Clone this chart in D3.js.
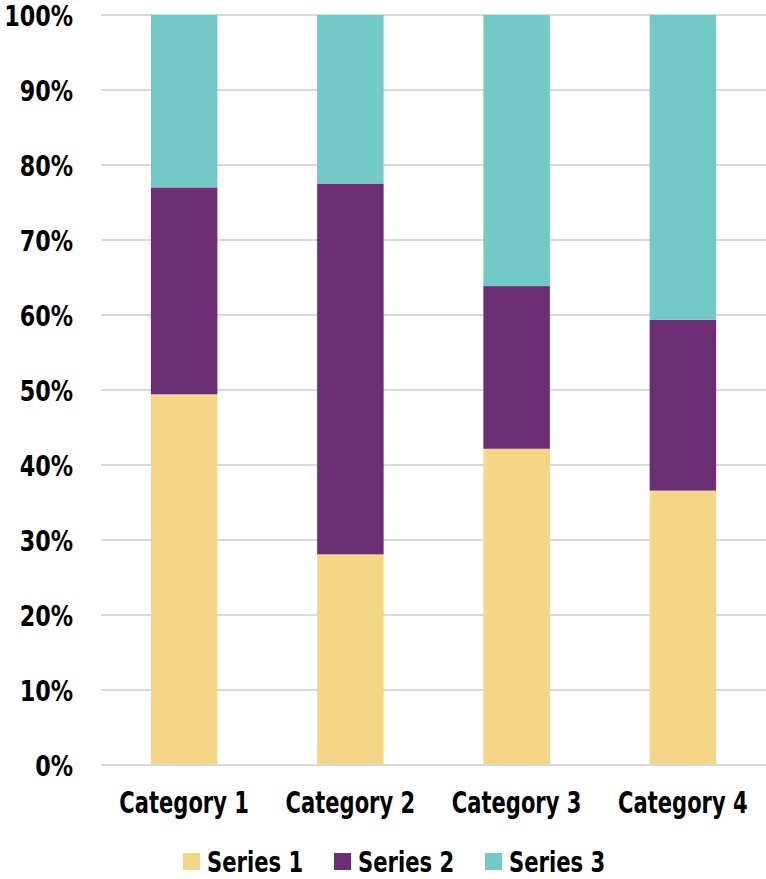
<!DOCTYPE html>
<html><head><meta charset="utf-8">
<script src="https://cdn.jsdelivr.net/npm/d3@7"></script>
<style>
body{margin:0;background:#fff;}
text{font-family:"DejaVu Sans Condensed","DejaVu Sans",sans-serif;font-weight:bold;fill:#000;}
</style></head>
<body><svg id="c" width="766" height="879"></svg>
<script>
const categories = ["Category 1","Category 2","Category 3","Category 4"];
const seriesNames = ["Series 1","Series 2","Series 3"];
const series1 = [4.3, 2.5, 3.5, 4.5];
const series2 = [2.4, 4.4, 1.8, 2.8];
const series3 = [2, 2, 3, 5];
const colors = ["#F5D687","#6B2D73","#72CAC6"];
const yTicks = [0,0.1,0.2,0.3,0.4,0.5,0.6,0.7,0.8,0.9,1];

const rows = categories.map((c,i)=>({cat:c,"Series 1":series1[i],"Series 2":series2[i],"Series 3":series3[i]}));
const stacked = d3.stack().keys(seriesNames).offset(d3.stackOffsetExpand)(rows);

const svg = d3.select("#c");
const x = d3.scaleBand().domain(categories).range([101,766]).paddingInner(0.6).paddingOuter(0.3);
const y = d3.scaleLinear().domain([0,1]).range([765,15]);

svg.append("g").selectAll("line").data(yTicks).join("line")
  .attr("x1",101).attr("x2",766).attr("y1",d=>y(d)).attr("y2",d=>y(d))
  .attr("stroke","#d9d9d9").attr("stroke-width",2);

svg.append("g").selectAll("g").data(stacked).join("g")
  .attr("fill",(d,i)=>colors[i])
  .selectAll("rect").data(d=>d).join("rect")
  .attr("x",d=>x(d.data.cat)).attr("width",x.bandwidth())
  .attr("y",d=>y(d[1])).attr("height",d=>y(d[0])-y(d[1]));

svg.append("line").attr("x1",101).attr("x2",766).attr("y1",y(0)).attr("y2",y(0))
  .attr("stroke","#d9d9d9").attr("stroke-width",2);

const yAxis = d3.axisLeft(y).tickValues(yTicks).tickFormat(d3.format(".0%")).tickSize(0).tickPadding(0);
const ga = svg.append("g").attr("transform","translate(73,0)").call(yAxis);
ga.select(".domain").remove();
ga.selectAll("text").attr("font-size",27.5).attr("x",0).attr("y",10).attr("dy",null)
  .attr("transform","scale(0.9,1)");

const xAxis = d3.axisBottom(x).tickSize(0).tickPadding(0);
const gx = svg.append("g").attr("transform","translate(0,813)").call(xAxis);
gx.select(".domain").remove();
gx.selectAll("text").attr("font-size",30).attr("y",0).attr("dy",null)
  .attr("transform","scale(0.78,1)");

const legX = [183,334,485];
const lg = svg.append("g").selectAll("g").data(seriesNames).join("g")
  .attr("transform",(d,i)=>`translate(${legX[i]},853)`);
lg.append("rect").attr("width",17).attr("height",17).attr("fill",(d,i)=>colors[i]);
lg.append("g").attr("transform","translate(24,19)")
  .append("text").attr("font-size",28).attr("transform","scale(0.84,1)").text(d=>d);
</script></body></html>
